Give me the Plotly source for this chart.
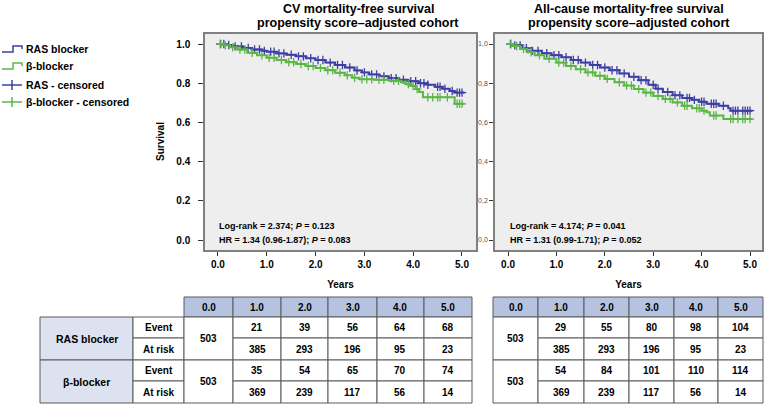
import numpy as np
import plotly.graph_objects as go

W, H = 767, 408
FONT = "Arial, Liberation Sans, sans-serif"

# ---------------- data ----------------
year_ticks = [0.0, 1.0, 2.0, 3.0, 4.0, 5.0]
surv_ticks = [0.0, 0.2, 0.4, 0.6, 0.8, 1.0]
surv_ticks_right = ["0,0", "0,2", "0,4", "0,6", "0,8", "1,0"]

# CV mortality-free survival (left panel)
cv_ras_t = [0, 0.15, 0.3, 0.5, 0.7, 0.9, 1.0, 1.2, 1.4, 1.6, 1.8, 2.0, 2.2, 2.4, 2.6, 2.8, 2.95,
            3.1, 3.3, 3.5, 3.7, 3.9, 4.1, 4.3, 4.45, 4.6, 4.75, 4.85, 5.05]
cv_ras_s = [1.0, 0.995, 0.988, 0.98, 0.972, 0.965, 0.961, 0.952, 0.945, 0.937, 0.927, 0.918, 0.905,
            0.893, 0.880, 0.865, 0.855, 0.845, 0.835, 0.826, 0.818, 0.810, 0.800, 0.792, 0.782,
            0.772, 0.760, 0.752, 0.752]
cv_bb_t = [0, 0.1, 0.25, 0.4, 0.6, 0.8, 1.0, 1.2, 1.4, 1.6, 1.8, 2.0, 2.2, 2.4, 2.6, 2.75, 2.9,
           3.2, 3.5, 3.75, 3.85, 3.95, 4.05, 4.12, 4.2, 4.85, 5.05]
cv_bb_s = [1.0, 0.993, 0.983, 0.972, 0.955, 0.942, 0.930, 0.918, 0.907, 0.898, 0.888, 0.878, 0.866,
           0.853, 0.840, 0.828, 0.820, 0.817, 0.812, 0.805, 0.795, 0.786, 0.770, 0.755, 0.728,
           0.695, 0.695]
cv_ras_cens = [0.05, 0.12, 0.22, 0.35, 0.48, 0.62, 0.75, 0.85, 0.95, 1.08, 1.15, 1.25, 1.35, 1.5,
               1.65, 1.75, 1.9, 2.05, 2.15, 2.3, 2.45, 2.55, 2.7, 2.85, 3.0, 3.15, 3.25, 3.4,
               3.55, 3.65, 3.8, 3.95, 4.05, 4.15, 4.22, 4.3, 4.5, 4.55, 4.65, 4.8, 4.9, 4.95, 5.0]
cv_bb_cens = [0.06, 0.15, 0.3, 0.45, 0.55, 0.7, 0.9, 1.05, 1.15, 1.3, 1.45, 1.55, 1.7, 1.85, 1.95,
              2.1, 2.25, 2.35, 2.5, 2.65, 2.8, 2.95, 3.05, 3.15, 3.3, 3.4, 3.6, 3.7, 3.9, 4.0,
              4.08, 4.3, 4.4, 4.5, 4.55, 4.7, 4.9, 4.95, 5.0]

# All-cause mortality-free survival (right panel)
ac_ras_t = [0, 0.1, 0.3, 0.5, 0.7, 0.9, 1.1, 1.3, 1.5, 1.7, 1.9, 2.1, 2.3, 2.5, 2.7, 2.9, 3.05,
            3.2, 3.4, 3.6, 3.8, 3.95, 4.1, 4.35, 4.55, 4.6, 5.05]
ac_ras_s = [1.0, 0.993, 0.978, 0.965, 0.953, 0.943, 0.932, 0.918, 0.905, 0.893, 0.880, 0.866,
            0.850, 0.833, 0.815, 0.792, 0.772, 0.755, 0.738, 0.725, 0.715, 0.705, 0.695, 0.685,
            0.672, 0.660, 0.660]
ac_bb_t = [0, 0.1, 0.25, 0.4, 0.55, 0.75, 1.0, 1.2, 1.4, 1.6, 1.8, 2.0, 2.2, 2.4, 2.6, 2.8, 3.0,
           3.2, 3.4, 3.6, 3.8, 4.0, 4.1, 4.17, 4.45, 5.05]
ac_bb_s = [1.0, 0.990, 0.975, 0.958, 0.943, 0.925, 0.905, 0.888, 0.871, 0.855, 0.838, 0.822,
           0.805, 0.788, 0.770, 0.752, 0.735, 0.720, 0.702, 0.685, 0.672, 0.660, 0.652, 0.635,
           0.617, 0.617]
ac_ras_cens = [0.05, 0.14, 0.25, 0.38, 0.5, 0.62, 0.8, 0.95, 1.05, 1.2, 1.35, 1.45, 1.6, 1.75,
               1.85, 2.0, 2.15, 2.25, 2.4, 2.6, 2.75, 2.85, 3.0, 3.1, 3.3, 3.45, 3.55, 3.7,
               3.75, 3.85, 4.0, 4.05, 4.2, 4.25, 4.3, 4.45, 4.65, 4.7, 4.75, 4.85, 4.9, 4.95, 5.0]
ac_bb_cens = [0.06, 0.18, 0.32, 0.48, 0.65, 0.85, 1.05, 1.15, 1.3, 1.5, 1.65, 1.75, 1.9, 2.05,
              2.3, 2.45, 2.55, 2.7, 2.85, 2.95, 3.1, 3.25, 3.35, 3.5, 3.65, 3.7, 3.9, 3.95,
              4.05, 4.25, 4.3, 4.6, 4.65, 4.75, 4.85, 4.9, 5.0]

# number-at-risk tables
table_cols = ["0.0", "1.0", "2.0", "3.0", "4.0", "5.0"]
groups = ["RAS blocker", "β-blocker"]
row_kinds = ["Event", "At risk"]
n_start = [503, 503]
cv_ras_event = [21, 39, 56, 64, 68]
cv_ras_risk = [385, 293, 196, 95, 23]
cv_bb_event = [35, 54, 65, 70, 74]
cv_bb_risk = [369, 239, 117, 56, 14]
ac_ras_event = [29, 55, 80, 98, 104]
ac_ras_risk = [385, 293, 196, 95, 23]
ac_bb_event = [54, 84, 101, 110, 114]
ac_bb_risk = [369, 239, 117, 56, 14]

legend_labels = ["RAS blocker", "β-blocker", "RAS - censored", "β-blocker - censored"]
titles_left = ["CV mortality-free survival", "propensity score–adjusted cohort"]
titles_right = ["All-cause mortality-free survival", "propensity score–adjusted cohort"]

BLUE = "#3d3fa6"
GREEN = "#5cb646"
BORDER = "#5a5a5a"
HEAD_FILL = "#b5c3e1"
LABEL_FILL = "#dce2ef"


def px(x):
    return x / W


def py(y):
    return 1 - y / H


def step_at(t, s, c):
    t = np.asarray(t)
    s = np.asarray(s)
    idx = np.searchsorted(t, c, side="right") - 1
    return s[idx]


fig = go.Figure()

curves = [
    (cv_ras_t, cv_ras_s, cv_ras_cens, BLUE, "x", "y", legend_labels[0], legend_labels[2]),
    (cv_bb_t, cv_bb_s, cv_bb_cens, GREEN, "x", "y", legend_labels[1], legend_labels[3]),
    (ac_ras_t, ac_ras_s, ac_ras_cens, BLUE, "x2", "y2", legend_labels[0], legend_labels[2]),
    (ac_bb_t, ac_bb_s, ac_bb_cens, GREEN, "x2", "y2", legend_labels[1], legend_labels[3]),
]
for t, s, cens, col, xa, ya, name, cname in curves:
    fig.add_trace(go.Scatter(x=t, y=s, mode="lines", line=dict(color=col, width=2, shape="hv"),
                             xaxis=xa, yaxis=ya, name=name, showlegend=False, hoverinfo="skip"))
    cy = step_at(t, s, np.asarray(cens))
    fig.add_trace(go.Scatter(x=cens, y=cy, mode="markers",
                             marker=dict(symbol="cross-thin", size=6, line=dict(color=col, width=1.3)),
                             xaxis=xa, yaxis=ya, name=cname, showlegend=False, hoverinfo="skip"))

shapes = []
annotations = []


def text(x, y, s, size=10, bold=True, anchor="center", color="#000", pad=1):
    annotations.append(dict(xref="paper", yref="paper", x=px(x), y=py(y),
                            text=f"<b>{s}</b>" if bold else s, showarrow=False,
                            xanchor=anchor, yanchor="middle", borderpad=pad,
                            font=dict(size=size, color=color, family=FONT)))


def rect(x0, y0, x1, y1, fill="white"):
    shapes.append(dict(type="rect", xref="paper", yref="paper", x0=px(x0), x1=px(x1),
                       y0=py(y1), y1=py(y0), fillcolor=fill,
                       line=dict(color=BORDER, width=1), layer="above"))


# ---- titles ----
for (cx, lines) in [(358, titles_left), (629, titles_right)]:
    text(cx, 8.5, lines[0], size=12.5, pad=0)
    text(cx, 22.5, lines[1], size=12.5, pad=0)
annotations.append(dict(xref="paper", yref="paper", x=px(160), y=py(142), text="<b>Survival</b>",
                        textangle=-90, showarrow=False, xanchor="center", yanchor="middle",
                        font=dict(size=10, family=FONT, color="#000")))

# in-plot statistics
text(217, 226, "Log-rank = 2.374; <i>P</i> = 0.123", size=9, anchor="left")
text(217, 240, "HR = 1.34 (0.96-1.87); <i>P</i> = 0.083", size=9, anchor="left")
text(508, 226, "Log-rank = 4.174; <i>P</i> = 0.041", size=9, anchor="left")
text(508, 240, "HR = 1.31 (0.99-1.71); <i>P</i> = 0.052", size=9, anchor="left")

# ---- manual legend ----
leg_y = [49, 66, 85, 102]
leg_cols = [BLUE, GREEN, BLUE, GREEN]
for i, (lab, yy, col) in enumerate(zip(legend_labels, leg_y, leg_cols)):
    if i < 2:
        path = (f"M {px(2)},{py(yy + 3)} L {px(13)},{py(yy + 3)} L {px(13)},{py(yy - 3)} "
                f"L {px(22)},{py(yy - 3)} L {px(22)},{py(yy)}")
        shapes.append(dict(type="path", xref="paper", yref="paper", path=path,
                           line=dict(color=col, width=1.5)))
    else:
        shapes.append(dict(type="line", xref="paper", yref="paper", x0=px(2), x1=px(22),
                           y0=py(yy), y1=py(yy), line=dict(color=col, width=1.5)))
        shapes.append(dict(type="line", xref="paper", yref="paper", x0=px(12), x1=px(12),
                           y0=py(yy - 5), y1=py(yy + 5), line=dict(color=col, width=1.5)))
    text(24, yy, lab, size=10.5, anchor="left")

# ---- tables ----
row_y = [297, 317, 338, 360, 381, 403]


def draw_table(col_x, events, risks, with_labels):
    for i, c in enumerate(table_cols):
        rect(col_x[i], row_y[0], col_x[i + 1], row_y[1], HEAD_FILL)
        text((col_x[i] + col_x[i + 1]) / 2, (row_y[0] + row_y[1]) / 2, c, size=10)
    for g in range(2):
        top, mid, bot = row_y[1 + 2 * g], row_y[2 + 2 * g], row_y[3 + 2 * g]
        if with_labels:
            rect(40, top, 133, bot, LABEL_FILL)
            text(86.5, (top + bot) / 2, groups[g], size=10.5)
            rect(133, top, col_x[0], mid)
            text((133 + col_x[0]) / 2, (top + mid) / 2, row_kinds[0], size=10)
            rect(133, mid, col_x[0], bot)
            text((133 + col_x[0]) / 2, (mid + bot) / 2, row_kinds[1], size=10)
        rect(col_x[0], top, col_x[1], bot)
        text((col_x[0] + col_x[1]) / 2, (top + bot) / 2, str(n_start[g]), size=10)
        for j in range(5):
            x0, x1 = col_x[j + 1], col_x[j + 2]
            rect(x0, top, x1, mid)
            text((x0 + x1) / 2, (top + mid) / 2, str(events[g][j]), size=10)
            rect(x0, mid, x1, bot)
            text((x0 + x1) / 2, (mid + bot) / 2, str(risks[g][j]), size=10)


draw_table([184, 233, 281, 328, 377, 424, 472], [cv_ras_event, cv_bb_event],
           [cv_ras_risk, cv_bb_risk], True)
draw_table([493, 538, 584, 629, 674, 718, 763], [ac_ras_event, ac_bb_event],
           [ac_ras_risk, ac_bb_risk], False)

# ---- axes ----
common_x = dict(tickvals=year_ticks, ticktext=[f"<b>{v:.1f}</b>" for v in year_ticks],
                ticks="outside", ticklen=4, tickcolor="#333", showline=True, mirror=True,
                linecolor="#808080", linewidth=1.5, showgrid=False, zeroline=False,
                tickfont=dict(size=10, family=FONT, color="#000"),
                title=dict(text="<b>Years</b>", font=dict(size=10, family=FONT, color="#000"),
                           standoff=12))
fig.update_layout(
    width=W, height=H, margin=dict(l=0, r=0, t=0, b=0), autosize=False,
    paper_bgcolor="white", plot_bgcolor="#eeeeee", showlegend=False,
    xaxis=dict(domain=[px(205), px(476)], range=[-0.266, 5.287], anchor="y", **common_x),
    yaxis=dict(domain=[py(250), py(34)], range=[-0.051, 1.051], anchor="x",
               tickvals=surv_ticks, ticktext=[f"<b>{v:.1f}</b>" for v in surv_ticks],
               ticks="outside", ticklen=5, tickcolor="#333", ticklabelstandoff=6,
               showline=True, mirror=True, linecolor="#808080", linewidth=1.5,
               showgrid=False, zeroline=False, tickfont=dict(size=10, family=FONT, color="#000")),
    xaxis2=dict(domain=[px(495), px(762)], range=[-0.269, 5.248], anchor="y2", **common_x),
    yaxis2=dict(domain=[py(250), py(34)], range=[-0.051, 1.051], anchor="x2",
                tickvals=surv_ticks, ticktext=surv_ticks_right,
                ticks="outside", ticklen=4, tickcolor="#333",
                showline=True, mirror=True, linecolor="#808080", linewidth=1.5,
                showgrid=False, zeroline=False, tickfont=dict(size=7, family=FONT, color="#555555")),
    shapes=shapes, annotations=annotations,
)

fig.write_html("out.html", config={"displayModeBar": False},
               post_script="document.body.style.margin='0';document.body.style.overflow='hidden';")
